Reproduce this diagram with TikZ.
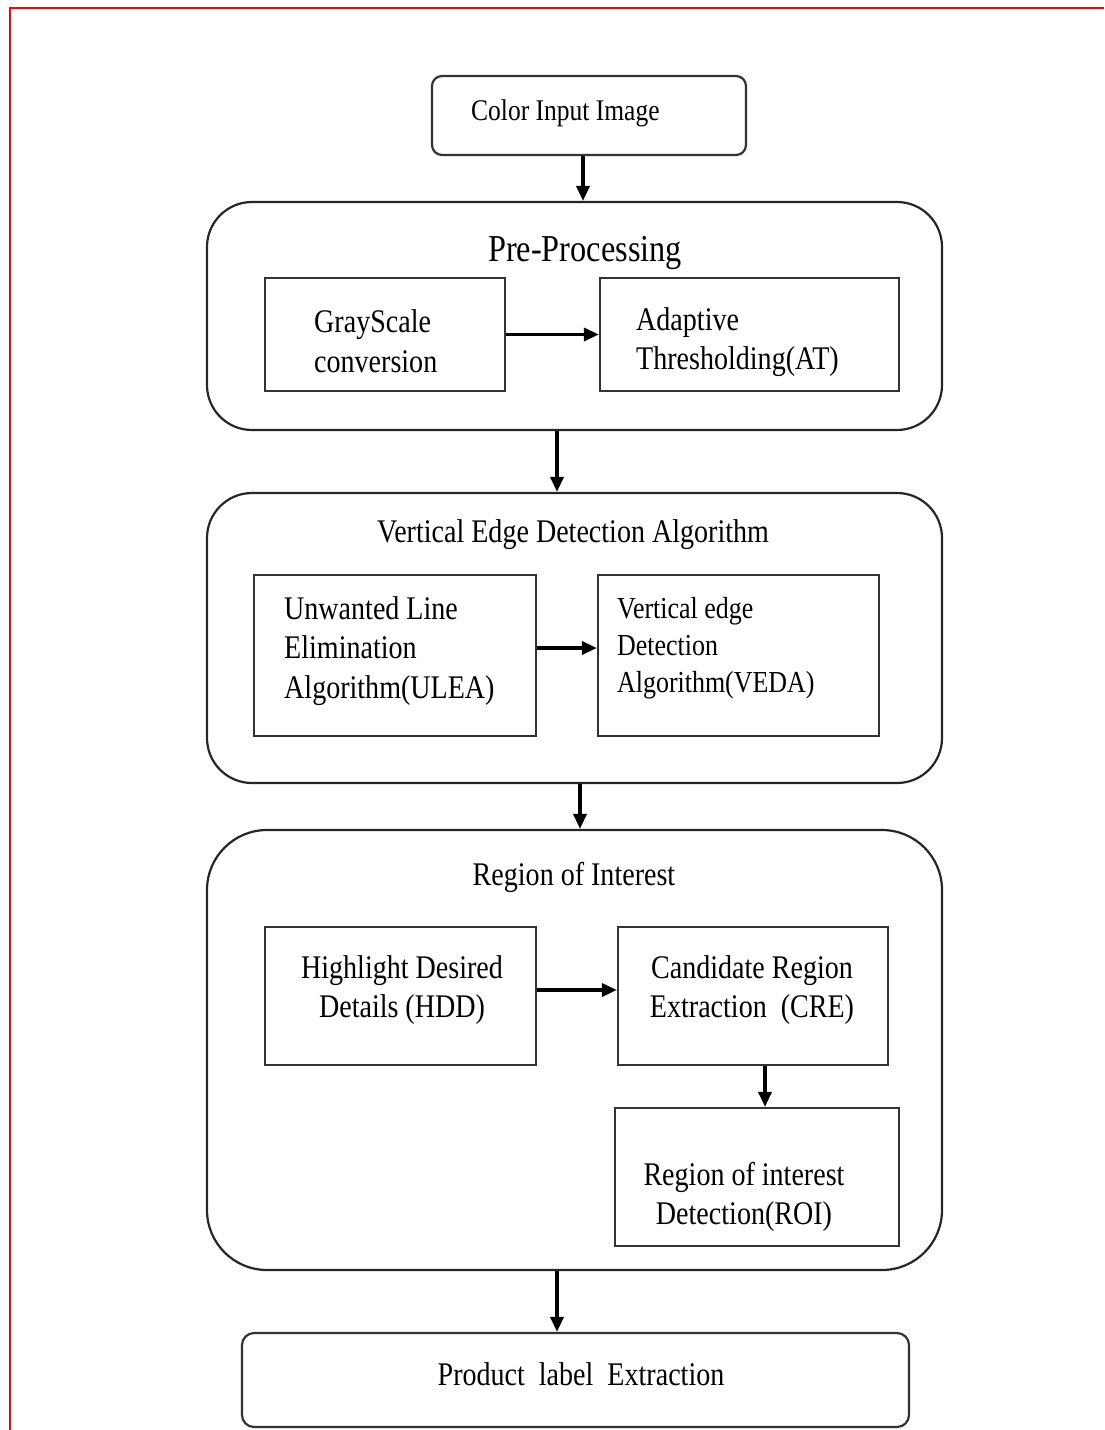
\documentclass[tikz,border=0pt]{standalone}
\usepackage{fontspec}
\setmainfont{Liberation Serif}[FakeStretch=0.85]
\usetikzlibrary{positioning,arrows.meta}

\begin{document}
\begin{tikzpicture}[x=1pt,y=-1pt,
  stage/.style={draw=black!85, line width=2.2pt, rounded corners=45pt, inner sep=0pt},
  blk/.style={draw=black!80, line width=2.2pt, inner sep=0pt},
  txt/.style={font=\fontsize{33}{39.5}\selectfont, inner sep=0pt, align=left},
  flow/.style={line width=3.4pt, -{Triangle[length=15pt,width=13pt]}}]
\useasboundingbox (0,0) rectangle (1104,1430);
% Frame
\draw[red, line width=2.2pt] (10,1430) -- (10,8) -- (1104,8);

% Input
\node[blk, rounded corners=10pt, minimum width=314pt, minimum height=79pt] (input) at (589,115.5) {};
\node[txt, anchor=west, font=\fontsize{30}{36}\selectfont] (input-t) at (471,113) {Color Input Image};

% Pre-processing stage
\node[stage, minimum width=735pt, minimum height=228pt] (pre) at (574.5,316) {};
\node[txt, font=\fontsize{38}{44}\selectfont] (pre-t) at (585,253) {Pre-Processing};
\node[blk, minimum width=240pt, minimum height=113pt] (gray) at (385,334.5) {};
\node[txt, anchor=west] (gray-t) at (314,341) {GrayScale\\conversion};
\node[blk, minimum width=299pt, minimum height=113pt] (adapt) at (749.5,334.5) {};
\node[txt, anchor=west] (adapt-t) at (636,342) {Adaptive\\Thresholding(AT)};

% Vertical edge detection stage
\node[stage, minimum width=735pt, minimum height=290pt] (veda) at (574.5,638) {};
\node[txt] (veda-t) at (573,535) {Vertical Edge Detection Algorithm};
\node[blk, minimum width=282pt, minimum height=161pt] (ulea) at (395,655.5) {};
\node[txt, anchor=west] (ulea-t) at (284,651) {Unwanted Line\\Elimination\\Algorithm(ULEA)};
\node[blk, minimum width=281pt, minimum height=161pt] (vedabox) at (738.5,655.5) {};
\node[txt, anchor=west, font=\fontsize{30.5}{37}\selectfont] (vedabox-t) at (617,648) {Vertical edge\\Detection\\Algorithm(VEDA)};

% Region of interest stage
\node[stage, rounded corners=60pt, minimum width=735pt, minimum height=440pt] (roiset) at (574.5,1050) {};
\node[txt] (roiset-t) at (574,877) {Region of Interest};
\node[blk, minimum width=271pt, minimum height=138pt] (hdd) at (400.5,996) {};
\node[txt, align=center] (hdd-t) at (402,990) {Highlight Desired\\Details (HDD)};
\node[blk, minimum width=270pt, minimum height=138pt] (cre) at (753,996) {};
\node[txt, align=center] (cre-t) at (752,990) {Candidate Region\\Extraction~ (CRE)};
\node[blk, minimum width=284pt, minimum height=138pt] (roi) at (757,1177) {};
\node[txt, align=center] (roi-t) at (744,1197) {Region of interest\\Detection(ROI)};

% Output
\node[blk, rounded corners=12pt, minimum width=667pt, minimum height=94pt] (product) at (575.5,1380) {};
\node[txt] (product-t) at (581,1374) {Product~ label~ Extraction};

% Arrows
\draw[flow] ([xshift=-6pt]input.south) -- ([xshift=-6pt]input.south |- pre.north);
\draw[flow] (gray) -- (adapt);
\draw[flow] ([xshift=-17.5pt]pre.south) -- ([xshift=-17.5pt]pre.south |- veda.north);
\draw[flow] ([yshift=7.5pt]ulea.east) -- ([yshift=7.5pt]ulea.east -| vedabox.west);
\draw[flow] ([xshift=5.5pt]veda.south) -- ([xshift=5.5pt]veda.south |- roiset.north);
\draw[flow] ([yshift=6pt]hdd.east) -- ([yshift=6pt]hdd.east -| cre.west);
\draw[flow] ([xshift=12pt]cre.south) -- ([xshift=12pt]cre.south |- roi.north);
\draw[flow] ([xshift=-17.5pt]roiset.south) -- ([xshift=-17.5pt]roiset.south |- product.north);
\end{tikzpicture}
\end{document}
